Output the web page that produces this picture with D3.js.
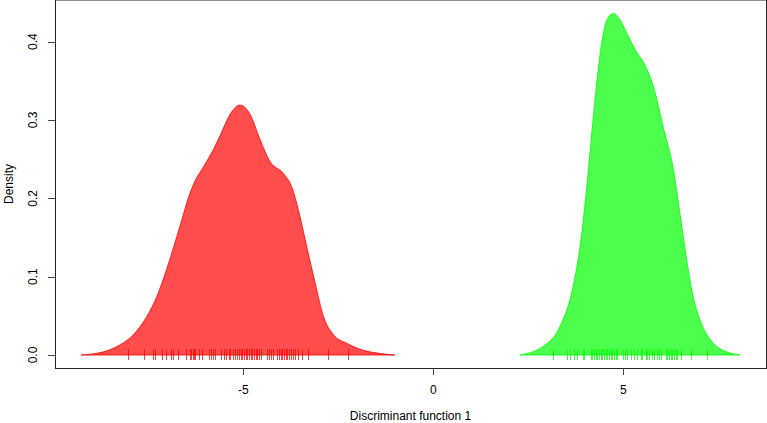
<!DOCTYPE html>
<html>
<head>
<meta charset="utf-8" />
<title>Discriminant function 1</title>
<script src="https://d3js.org/d3.v7.min.js"></script>
<style>
  body { margin: 0; background: #fff; }
  svg text { font-family: "Liberation Sans", Arial, sans-serif; font-size: 12px; fill: #000; }
</style>
</head>
<body>
<svg id="chart" width="767" height="423"></svg>
<script>
// density curves (x, density)
var redX = [-9.27, -8.68, -8.24, -7.89, -7.54, -7.28, -7.02, -6.80, -6.62, -6.45, -6.27, -6.05, -5.79, -5.61, -5.35, -5.09, -4.82, -4.56, -4.30, -3.95, -3.73, -3.51, -3.33, -3.11, -2.89, -2.63, -2.28, -1.84, -1.40, -1.01];
var redY = [0.000, 0.004, 0.013, 0.026, 0.049, 0.074, 0.109, 0.143, 0.172, 0.200, 0.222, 0.240, 0.262, 0.280, 0.307, 0.319, 0.307, 0.275, 0.247, 0.232, 0.215, 0.177, 0.138, 0.092, 0.049, 0.026, 0.015, 0.006, 0.002, 0.000];
var greenX = [2.28, 2.89, 3.33, 3.64, 3.86, 4.04, 4.17, 4.30, 4.43, 4.57, 4.74, 4.91, 5.09, 5.31, 5.57, 5.79, 6.05, 6.32, 6.49, 6.67, 6.84, 7.06, 7.37, 7.72, 8.07];
var greenY = [0.000, 0.011, 0.036, 0.079, 0.138, 0.215, 0.283, 0.347, 0.398, 0.428, 0.436, 0.428, 0.411, 0.390, 0.370, 0.343, 0.291, 0.236, 0.181, 0.121, 0.074, 0.040, 0.015, 0.004, 0.000];

// rug (individual scores)
var redRug = [-8.03, -7.61, -7.37, -7.32, -7.15, -7.03, -6.91, -6.86, -6.73, -6.52, -6.40, -6.37, -6.33, -6.30, -6.26, -6.17, -6.08, -5.91, -5.86, -5.81, -5.74, -5.59, -5.51, -5.46, -5.38, -5.35, -5.28, -5.22, -5.17, -5.12, -5.06, -5.03, -4.98, -4.94, -4.89, -4.85, -4.81, -4.76, -4.72, -4.67, -4.63, -4.59, -4.54, -4.37, -4.32, -4.28, -4.23, -4.12, -4.06, -4.02, -3.97, -3.93, -3.88, -3.84, -3.79, -3.74, -3.70, -3.64, -3.55, -3.46, -3.29, -2.78, -2.25];
var greenRug = [3.16, 3.53, 3.61, 3.69, 3.77, 3.95, 3.97, 4.14, 4.18, 4.23, 4.27, 4.32, 4.36, 4.40, 4.45, 4.49, 4.54, 4.58, 4.62, 4.67, 4.71, 4.76, 4.80, 4.84, 5.00, 5.04, 5.09, 5.19, 5.28, 5.37, 5.46, 5.50, 5.59, 5.63, 5.68, 5.76, 5.81, 5.89, 5.94, 5.98, 6.12, 6.16, 6.20, 6.25, 6.29, 6.33, 6.38, 6.42, 6.51, 6.77, 7.19];

var xTicks = [-5, 0, 5];
var yTicks = [0, 0.1, 0.2, 0.3, 0.4];

var svg = d3.select("#chart");
var boxL = 55, boxR = 766, boxT = 0, boxB = 368;

var x = d3.scaleLinear().domain([-5, 5]).range([243.3, 623.3]);
var y = d3.scaleLinear().domain([0, 0.4]).range([355, 41.6]);

var line = d3.line()
  .x(function(d) { return x(d[0]); })
  .y(function(d) { return y(d[1]); })
  .curve(d3.curveMonotoneX);

function drawGroup(xs, ys, rug, col, fillCol) {
  var pts = xs.map(function(v, i) { return [v, ys[i]]; });
  svg.append("path")
    .attr("d", line(pts) + "Z")
    .attr("fill", fillCol)
    .attr("stroke", col)
    .attr("stroke-opacity", 0.8)
    .attr("stroke-width", 1);
  svg.append("g").selectAll("line")
    .data(rug).enter().append("line")
    .attr("x1", function(d) { return Math.round(x(d)) + 0.5; })
    .attr("x2", function(d) { return Math.round(x(d)) + 0.5; })
    .attr("y1", y(0) - 6)
    .attr("y2", y(0) + 5)
    .attr("stroke", col)
    .attr("stroke-opacity", 0.75)
    .attr("stroke-width", 1);
}

drawGroup(redX, redY, redRug, "#ff0000", "#ff4d4d");
drawGroup(greenX, greenY, greenRug, "#00ff00", "#4dff4d");

// box
svg.append("rect")
  .attr("x", boxL + 0.5).attr("y", boxT)
  .attr("width", boxR - boxL).attr("height", boxB - boxT + 0.5)
  .attr("fill", "none").attr("stroke", "#222").attr("stroke-width", 1);

// x axis
var xa = svg.append("g");
xa.selectAll("line").data(xTicks).enter().append("line")
  .attr("x1", function(d) { return Math.round(x(d)) + 0.5; })
  .attr("x2", function(d) { return Math.round(x(d)) + 0.5; })
  .attr("y1", boxB).attr("y2", boxB + 7)
  .attr("stroke", "#444");
xa.selectAll("text").data(xTicks).enter().append("text")
  .attr("x", function(d) { return x(d); })
  .attr("y", 394)
  .attr("text-anchor", "middle")
  .text(function(d) { return d; });

// y axis
var ya = svg.append("g");
ya.selectAll("line").data(yTicks).enter().append("line")
  .attr("x1", boxL - 7).attr("x2", boxL)
  .attr("y1", function(d) { return Math.round(y(d)) + 0.5; })
  .attr("y2", function(d) { return Math.round(y(d)) + 0.5; })
  .attr("stroke", "#444");
ya.selectAll("text").data(yTicks).enter().append("text")
  .attr("transform", function(d) { return "translate(37," + y(d) + ") rotate(-90)"; })
  .attr("text-anchor", "middle")
  .text(function(d) { return d.toFixed(1); });

svg.append("text")
  .attr("x", (boxL + boxR) / 2).attr("y", 420)
  .attr("text-anchor", "middle")
  .text("Discriminant function 1");
svg.append("text")
  .attr("transform", "translate(13," + (boxB + boxT) / 2 + ") rotate(-90)")
  .attr("text-anchor", "middle")
  .text("Density");
</script>
</body>
</html>
